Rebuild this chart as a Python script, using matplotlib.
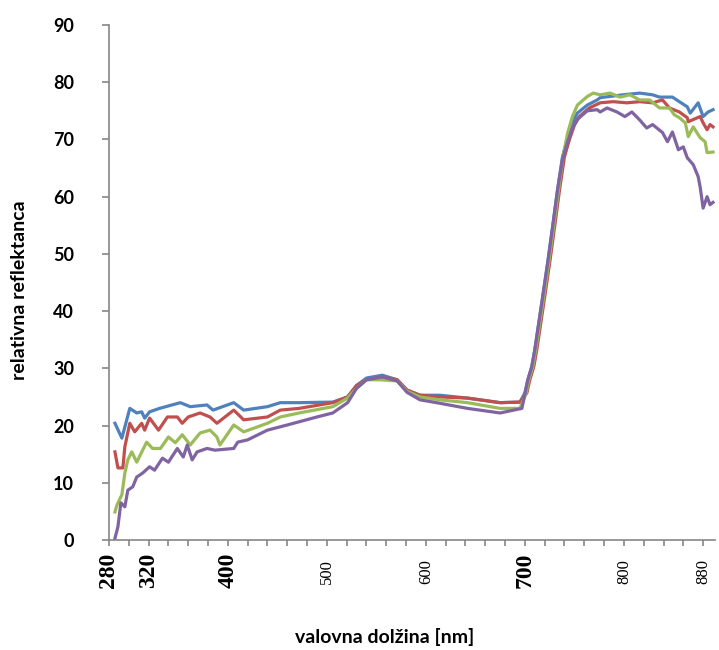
import matplotlib
matplotlib.use("Agg")
import matplotlib.pyplot as plt
import numpy as np

# ---- data (wavelength nm, relative reflectance %) ----
blue_x = [286, 293, 301, 308, 313, 316, 321, 331, 352, 362, 379, 385, 406, 416, 440, 453, 472, 506, 521, 530,
          540, 556, 571, 581, 594, 614, 642, 675, 695, 700, 703, 707, 710, 713, 718, 723, 728, 733, 738, 743,
          748, 753, 763, 773, 776, 799, 816, 829, 836, 849, 856, 864, 867, 875, 880, 885, 890]
blue_y = [20.4, 17.8, 23, 22.2, 22.4, 21.3, 22.4, 23, 24, 23.3, 23.6, 22.7, 24, 22.7, 23.3, 24, 24, 24.1, 25, 27,
          28.3, 28.8, 28, 26.2, 25.3, 25.3, 24.8, 24, 24.1, 25.7, 28, 30.3, 33.2, 36.7, 42.5, 48.4, 54.7, 61.2, 67, 70,
          72.9, 74.6, 76, 76.9, 77.3, 77.8, 78.1, 77.8, 77.4, 77.4, 76.6, 75.7, 74.6, 76.4, 74, 74.8, 75.2]

red_x = [286, 289, 294, 296, 301, 306, 313, 316, 321, 330, 339, 349, 354, 360, 372, 382, 389, 406, 416, 440,
         453, 472, 506, 521, 530, 540, 556, 571, 581, 594, 614, 642, 675, 695, 702, 705, 709, 712, 715, 720,
         725, 730, 735, 740, 745, 750, 755, 765, 776, 789, 803, 816, 829, 839, 846, 856, 864, 865, 877, 880,
         884, 887, 890]
red_y = [15.4, 12.6, 12.6, 16.3, 20.4, 18.9, 20.4, 19.2, 21.3, 19.2, 21.5, 21.5, 20.4, 21.5, 22.2, 21.5, 20.4, 22.7, 21, 21.5,
         22.7, 23, 24, 25, 27, 28, 28.5, 28, 26.2, 25.3, 25, 24.8, 24, 24.1, 25.7, 28, 30.3, 33.2, 36.7, 42.5,
         48.4, 54.7, 61.2, 67, 70, 72.5, 74, 75.5, 76.4, 76.6, 76.4, 76.6, 76.4, 76.9, 75.5, 74.8, 73.8, 73.1, 74, 72.9,
         71.7, 72.6, 72.2]

green_x = [286, 288, 293, 296, 299, 303, 308, 314, 318, 324, 332, 340, 347, 354, 362, 372, 382, 389, 392, 406,
           416, 440, 453, 472, 506, 521, 530, 540, 553, 571, 581, 594, 614, 642, 675, 695, 701, 704, 708, 711,
           714, 719, 724, 729, 734, 739, 743, 748, 753, 763, 769, 776, 786, 796, 806, 816, 826, 836, 846, 851,
           856, 862, 865, 870, 877, 882, 884, 890]
green_y = [4.9, 6.1, 7.9, 11.7, 14, 15.4, 13.6, 15.7, 17.1, 16, 16, 18, 17, 18.4, 16.6, 18.7, 19.2, 18, 16.6, 20.1,
           18.9, 20.4, 21.5, 22.2, 23.3, 24.8, 26.5, 28, 28, 27.8, 26, 25, 24.5, 24, 23, 23, 25.5, 28, 30.3, 33.2,
           36.7, 42.5, 48.4, 54.7, 61.2, 67.5, 71, 74, 76, 77.5, 78.1, 77.8, 78.1, 77.4, 77.8, 76.9, 76.9, 75.5, 75.5, 74.3,
           73.8, 72.9, 70.5, 72.2, 70.3, 69.6, 67.7, 67.8]

purple_x = [286, 289, 292, 296, 299, 304, 308, 314, 321, 326, 334, 340, 349, 355, 359, 364, 369, 379, 387, 406,
            410, 420, 440, 460, 490, 506, 521, 530, 540, 556, 571, 581, 594, 614, 642, 675, 697, 700, 703, 707,
            710, 713, 718, 723, 728, 733, 738, 743, 748, 753, 763, 773, 776, 783, 793, 801, 808, 816, 823, 829,
            839, 844, 849, 855, 860, 864, 870, 875, 877, 880, 884, 887, 890]
purple_y = [0.3, 2.3, 6.5, 5.8, 8.7, 9.3, 11, 11.7, 12.8, 12.2, 14.3, 13.6, 16, 14.5, 16.6, 14, 15.4, 16, 15.7, 16,
            17.1, 17.5, 19.2, 20.1, 21.5, 22.2, 24, 26.5, 28, 28.5, 27.8, 25.8, 24.5, 23.9, 23, 22.2, 23, 25.5, 28, 30.3,
            33.2, 36.7, 42.5, 48.4, 54.7, 61.2, 66.5, 69.5, 72, 73.5, 75, 75.2, 74.8, 75.5, 74.8, 74, 74.8, 73.4, 72, 72.6,
            71.2, 69.6, 71.3, 68.2, 68.7, 66.8, 65.6, 63.5, 61.7, 58, 60, 58.6, 59]

y_ticks = [0, 10, 20, 30, 40, 50, 60, 70, 80, 90]
x_big_labels = [280, 320, 400, 700]
x_small_labels = [500, 600, 800, 880]

# ---- figure ----
fig = plt.figure(figsize=(7.19, 6.5), dpi=100)
ax = fig.add_axes([109 / 719, 1 - 540 / 650, 606 / 719, 515 / 650])

lw = 2.3
ax.plot(blue_x, blue_y, color="#4F81BD", lw=lw, solid_joinstyle="round")
ax.plot(red_x, red_y, color="#C0504D", lw=lw, solid_joinstyle="round")
ax.plot(green_x, green_y, color="#9BBB59", lw=lw, solid_joinstyle="round")
ax.plot(purple_x, purple_y, color="#8064A2", lw=lw, solid_joinstyle="round")

ax.set_xlim(280, 892)
ax.set_ylim(0, 90)

gray = "#868686"
for s in ["top", "right"]:
    ax.spines[s].set_visible(False)
for s in ["left", "bottom"]:
    ax.spines[s].set_color(gray)
    ax.spines[s].set_linewidth(1.2)

ax.set_yticks(y_ticks)
ax.set_yticklabels([str(v) for v in y_ticks], family="Lato", fontweight="bold", fontsize=13)
ax.tick_params(axis="y", direction="out", length=5, width=1.2, color=gray, pad=20)

ax.set_xticks(np.arange(280, 881, 20))
ax.set_xticklabels([])
ax.tick_params(axis="x", direction="out", length=4.5, width=1.2, color=gray)

for v in x_big_labels:
    ax.annotate(str(v), xy=(v, 0), xycoords=("data", "axes fraction"),
                xytext=(0, -9), textcoords="offset points",
                rotation=90, ha="center", va="top",
                family="Liberation Serif", fontsize=17, fontweight="bold")
for v in x_small_labels:
    ax.annotate(str(v), xy=(v, 0), xycoords=("data", "axes fraction"),
                xytext=(0, -14), textcoords="offset points",
                rotation=90, ha="center", va="top",
                family="Liberation Serif", fontsize=12)

fig.text(20 / 719, 1 - 290 / 650, "relativna reflektanca", rotation=90,
         ha="center", va="center", family="Lato", fontweight="bold", fontsize=14)
fig.text(385 / 719, 1 - 637 / 650, "valovna dolžina [nm]",
         ha="center", va="center", family="Lato", fontweight="bold", fontsize=14)

fig.savefig("out.png", dpi=100)
